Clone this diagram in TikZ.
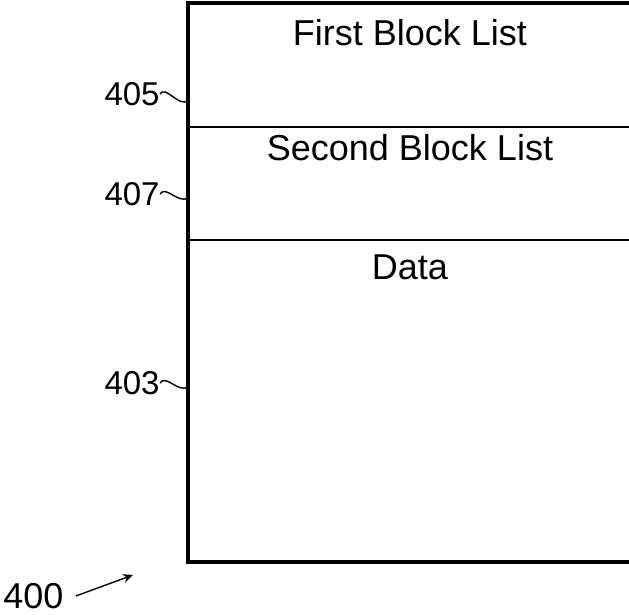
\documentclass[tikz,border=0pt]{standalone}
\usepackage{fontspec}
\setmainfont{Liberation Sans}
\usetikzlibrary{arrows.meta,positioning}
\begin{document}
\begin{tikzpicture}[x=0.5pt,y=-0.5pt,
  field/.style={font=\fontsize{18}{22}\selectfont,inner sep=0pt},
  ref/.style={font=\fontsize{16.5}{19}\selectfont,inner sep=0pt},
  frame/.style={line width=1.6pt},
  divider/.style={line width=1.1pt},
  lead/.style={line width=0.7pt},
  arr/.style={-{Stealth[length=5pt,width=4.5pt]},line width=0.7pt}
]
\useasboundingbox (0,0) rectangle (629,615);
% memory layout
\draw[frame] (629,3) -- (188,3) -- (188,562) -- (629,562);
\draw[divider] (188,127) -- (629,127);
\draw[divider] (188,240) -- (629,240);
\node[field] (first) at (410,33) {First Block List};
\node[field] (second) at (410,148) {Second Block List};
\node[field] (data) at (410,267) {Data};
% reference numerals
\node[ref,anchor=east] (n405) at (160,94) {405};
\node[ref,anchor=east] (n407) at (160,194) {407};
\node[ref,anchor=east] (n403) at (160,383) {403};
\coordinate (e405) at (188,101);
\coordinate (e407) at (188,198);
\coordinate (e403) at (188,387);
\draw[lead] (n405.east) .. controls +(6,-9) and +(-10,6) .. (e405);
\draw[lead] (n407.east) .. controls +(6,-9) and +(-10,6) .. (e407);
\draw[lead] (n403.east) .. controls +(6,-9) and +(-10,6) .. (e403);
\node[ref,font=\fontsize{18}{21}\selectfont,anchor=west] (n400) at (3,596) {400};
\coordinate (t400) at (133,575);
\draw[arr] (n400.east) ++(12,0) -- (t400);
\end{tikzpicture}
\end{document}
